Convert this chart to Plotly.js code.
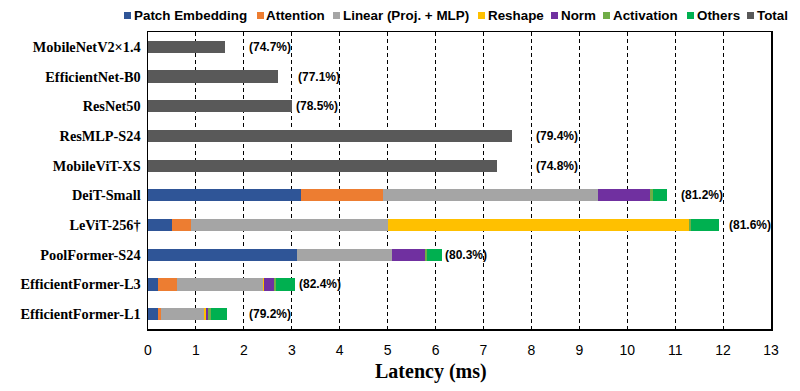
<!DOCTYPE html>
<html>
<head>
<meta charset="utf-8">
<script src="https://cdn.plot.ly/plotly-3.0.1.min.js"></script>
<style>html,body{margin:0;padding:0;background:#fff}#chart{width:800px;height:391px}</style>
</head>
<body>
<div id="chart"></div>
<script>
// ---- data ----
const models = ["MobileNetV2×1.4","EfficientNet-B0","ResNet50","ResMLP-S24","MobileViT-XS",
                "DeiT-Small","LeViT-256†","PoolFormer-S24","EfficientFormer-L3","EfficientFormer-L1"];
const patchEmbedding = [null,null,null,null,null, 3.20, 0.50, 3.10, 0.21, 0.21];
const attention      = [null,null,null,null,null, 1.70, 0.40, 0.00, 0.40, 0.06];
const linear         = [null,null,null,null,null, 4.50, 4.10, 2.00, 1.79, 0.90];
const reshape        = [null,null,null,null,null, 0.00, 6.29, 0.00, 0.03, 0.03];
const norm           = [null,null,null,null,null, 1.08, 0.00, 0.69, 0.20, 0.05];
const activation     = [null,null,null,null,null, 0.05, 0.04, 0.04, 0.05, 0.06];
const others         = [null,null,null,null,null, 0.31, 0.59, 0.30, 0.39, 0.34];
const total          = [1.61, 2.71, 3.01, 7.59, 7.29, null,null,null,null,null];
const accuracy = ["74.7%","77.1%","78.5%","79.4%","74.8%","81.2%","81.6%","80.3%","82.4%","79.2%"];
const xTicks = [0,1,2,3,4,5,6,7,8,9,10,11,12,13];

// ---- styling / layout (not data) ----
const labelX = [2.07, 3.08, 3.05, 8.05, 8.05, 11.08, 12.08, 6.15, 3.10, 2.07];
const series = [
  {name:"Patch Embedding", v:patchEmbedding, c:"#2F5597"},
  {name:"Attention", v:attention, c:"#ED7D31"},
  {name:"Linear (Proj. + MLP)", v:linear, c:"#A5A5A5"},
  {name:"Reshape", v:reshape, c:"#FFC000"},
  {name:"Norm", v:norm, c:"#7030A0"},
  {name:"Activation", v:activation, c:"#70AD47"},
  {name:"Others", v:others, c:"#00B050"},
  {name:"Total", v:total, c:"#595959"}
];
// legend item pixel positions (square left edge, text left edge)
const legSquarePx = [124, 257, 333, 478, 551, 603, 687, 747];
const legTextPx   = [134, 266, 343, 488, 561, 613, 697, 757];

const M = {l:148, r:29, t:32, b:62};
const W = 800, H = 391;
const PW = W - M.l - M.r, PH = H - M.t - M.b;
const px2x = p => (p - M.l) / PW;
const py2y = p => (H - M.b - p) / PH;

const traces = series.map(s => ({
  type:"bar", orientation:"h", name:s.name, x:s.v, y:models,
  marker:{color:s.c, line:{width:0}}, showlegend:false, hoverinfo:"x+name"
}));

const annotations = models.map((m,i) => ({
  x:labelX[i], y:m, xref:"x", yref:"y", text:"<b>("+accuracy[i]+")</b>",
  showarrow:false, xanchor:"left", yanchor:"middle",
  font:{family:"Liberation Sans, Arial", size:12, color:"#000"}
}));
const shapes = [];
series.forEach((s,i) => {
  shapes.push({type:"rect", xref:"paper", yref:"paper",
    x0:px2x(legSquarePx[i]), x1:px2x(legSquarePx[i]+7),
    y0:py2y(19), y1:py2y(12), fillcolor:s.c, line:{width:0}});
  annotations.push({xref:"paper", yref:"paper", x:px2x(legTextPx[i]-2), y:py2y(15.5),
    xanchor:"left", yanchor:"middle", showarrow:false, text:"<b>"+s.name+"</b>",
    font:{family:"Liberation Sans, Arial", size:13.4, color:"#000"}});
});
annotations.push({xref:"paper", yref:"paper", x:px2x(431), y:py2y(371),
  xanchor:"center", yanchor:"middle", showarrow:false, text:"<b>Latency (ms)</b>",
  font:{family:"Liberation Serif, Times New Roman", size:20, color:"#000"}});

const layout = {
  width:W, height:H, margin:M,
  paper_bgcolor:"#fff", plot_bgcolor:"#fff",
  barmode:"stack", bargap:0.59,
  xaxis:{
    range:[0,13], tickvals:xTicks, ticktext:xTicks.map(String),
    showgrid:true, gridcolor:"#000", gridwidth:1, griddash:"4px,3px",
    zeroline:false, showline:true, linecolor:"#000", linewidth:1.5, mirror:true,
    ticks:"", ticklabelstandoff:8, tickfont:{family:"Liberation Sans, Arial", size:14, color:"#000"}
  },
  yaxis:{
    type:"category", categoryorder:"array", categoryarray:models, autorange:"reversed",
    showgrid:false, zeroline:false, showline:true, linecolor:"#000", linewidth:1.5, mirror:true,
    ticks:"", ticklabelstandoff:3,
    tickfont:{family:"Liberation Serif, Times New Roman", size:14.3, color:"#000", weight:"bold"}
  },
  shapes:shapes,
  annotations:annotations
};

Plotly.newPlot("chart", traces, layout, {displayModeBar:false, staticPlot:true});
</script>
</body>
</html>
